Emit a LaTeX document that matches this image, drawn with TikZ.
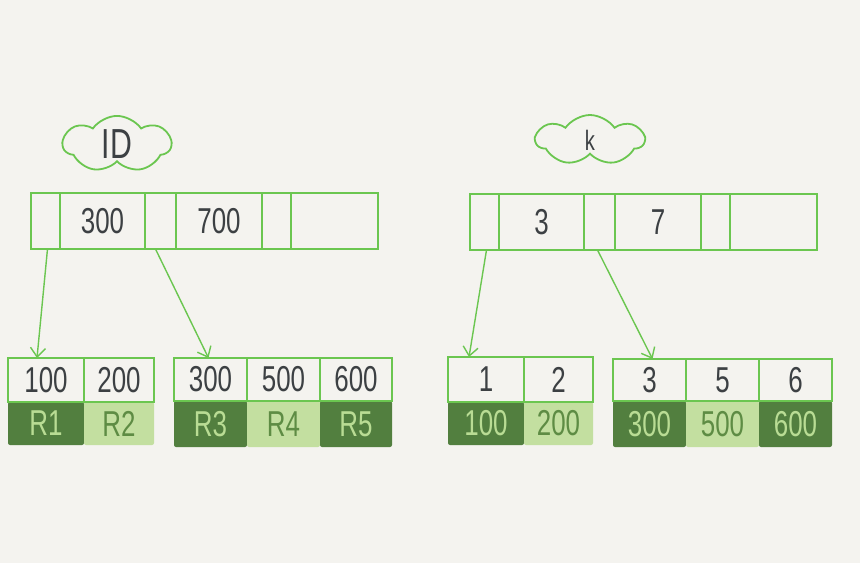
\documentclass[tikz,border=0pt]{standalone}
\usepackage{fontspec}
\setmainfont[FakeStretch=0.72]{Liberation Sans}
\usetikzlibrary{arrows.meta, shapes.symbols}
\definecolor{paper}{HTML}{F4F3EF}
\definecolor{linegreen}{HTML}{6BC650}
\definecolor{leafdark}{HTML}{527F3F}
\definecolor{leaflight}{HTML}{C3DFA0}
\definecolor{inkgray}{HTML}{3C4043}
\definecolor{inkpale}{HTML}{B9DC94}
\definecolor{inkgreen}{HTML}{5E8C44}

\begin{document}
\begin{tikzpicture}[x=1pt, y=-1pt,
    cell/.style={draw=linegreen, line width=1.5pt, anchor=north west, inner sep=0pt, outer sep=0pt,
      text=inkgray, font=\fontsize{36}{36}\selectfont},
    valdark/.style={fill=leafdark, rounded corners=2pt, anchor=north west, inner sep=0pt, outer sep=0pt,
      text=inkpale, font=\fontsize{36}{36}\selectfont},
    vallight/.style={valdark, fill=leaflight, text=inkgreen},
    tag/.style={cloud, cloud puffs=7, cloud puff arc=110, aspect=2.1, draw=linegreen, line width=1.8pt, inner sep=0pt, text=inkgray},
    link/.style={draw=linegreen, line width=1.4pt, -{Straight Barb[length=9pt, width=15pt]}}]
    \fill[paper] (0,0) rectangle (860,563);
    \useasboundingbox (0,0) rectangle (860,563);

    % index names
    \node[tag, minimum width=108, minimum height=50, font=\fontsize{42}{42}\selectfont] (idtag) at (117,144) {ID};
    \node[tag, minimum width=108, minimum height=50, font=\fontsize{28}{28}\selectfont] (ktag) at (590,140) {k};

    % root of ID tree
    \node[cell, minimum width=29, minimum height=56] (lp0) at (31,193) {};
    \node[cell, minimum width=85, minimum height=56] (lk300) at (60,193) {300};
    \node[cell, minimum width=31, minimum height=56] (lp1) at (145,193) {};
    \node[cell, minimum width=86, minimum height=56] (lk700) at (176,193) {700};
    \node[cell, minimum width=29, minimum height=56] (lp2) at (262,193) {};
    \node[cell, minimum width=87, minimum height=56] (lkend) at (291,193) {};

    % root of k tree
    \node[cell, minimum width=29, minimum height=56] (rp0) at (470,194) {};
    \node[cell, minimum width=85, minimum height=56] (rk3) at (499,194) {3};
    \node[cell, minimum width=31, minimum height=56] (rp1) at (584,194) {};
    \node[cell, minimum width=86, minimum height=56] (rk7) at (615,194) {7};
    \node[cell, minimum width=29, minimum height=56] (rp2) at (701,194) {};
    \node[cell, minimum width=87, minimum height=56] (rkend) at (730,194) {};

    % leaves of ID tree
    \node[valdark, minimum width=76, minimum height=43] (lv1) at (8,402) {R1};
    \node[vallight, minimum width=70, minimum height=43] (lv2) at (84,402) {R2};
    \node[cell, minimum width=76, minimum height=44] (la100) at (8,358) {100};
    \node[cell, minimum width=70, minimum height=44] (la200) at (84,358) {200};

    \node[valdark, minimum width=73, minimum height=46] (lv3) at (174,401) {R3};
    \node[vallight, minimum width=73, minimum height=46] (lv4) at (247,401) {R4};
    \node[valdark, minimum width=72, minimum height=46] (lv5) at (320,401) {R5};
    \node[cell, minimum width=73, minimum height=43] (lb300) at (174,358) {300};
    \node[cell, minimum width=73, minimum height=43] (lb500) at (247,358) {500};
    \node[cell, minimum width=72, minimum height=43] (lb600) at (320,358) {600};

    % leaves of k tree
    \node[valdark, minimum width=76, minimum height=43] (rv1) at (448,402) {100};
    \node[vallight, minimum width=69, minimum height=43] (rv2) at (524,402) {200};
    \node[cell, minimum width=76, minimum height=45] (ra1) at (448,357) {1};
    \node[cell, minimum width=69, minimum height=45] (ra2) at (524,357) {2};

    \node[valdark, minimum width=73, minimum height=46] (rv3) at (613,401) {300};
    \node[vallight, minimum width=73, minimum height=46] (rv5) at (686,401) {500};
    \node[valdark, minimum width=73, minimum height=46] (rv6) at (759,401) {600};
    \node[cell, minimum width=73, minimum height=42] (rb3) at (613,359) {3};
    \node[cell, minimum width=73, minimum height=42] (rb5) at (686,359) {5};
    \node[cell, minimum width=73, minimum height=42] (rb6) at (759,359) {6};

    % pointers
    \draw[link] ([xshift=2]lp0.south) -- ([xshift=-9]la100.north);
    \draw[link] ([xshift=-5]lp1.south) -- ([xshift=-2]lb300.north);
    \draw[link] ([xshift=2]rp0.south) -- ([xshift=-17]ra1.north);
    \draw[link] ([xshift=-2]rp1.south) -- ([xshift=3]rb3.north);
\end{tikzpicture}
\end{document}
